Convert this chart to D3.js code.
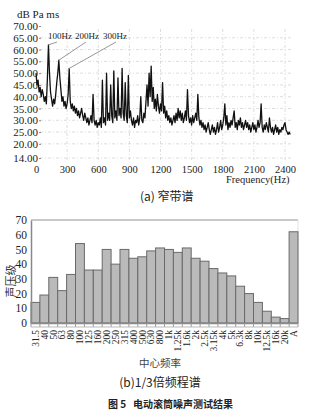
<!DOCTYPE html>
<meta charset="utf-8">
<style>
body { margin: 0; background: #fff; }
svg { display: block; }
</style>
<svg width="319" height="417"></svg>
<script src="https://d3js.org/d3.v7.min.js"></script>
<script>

// (a) narrow band spectrum, one value every 10 Hz starting at 0 Hz
var freqStep = 10;
var spectrumDb = [
  50, 45, 47, 42, 44, 40, 43, 41, 38, 40,
  37, 48, 62, 50, 42, 39, 36, 39, 37, 41,
  46, 50, 55.5, 48, 43, 38, 40, 36, 38, 35,
  37, 41, 52, 38, 35, 37, 34, 36, 33, 35,
  32, 34, 31, 33, 35, 32, 30, 33, 31, 29,
  31, 28, 30, 32, 29, 41, 30, 28, 30, 27,
  29, 28, 31, 27, 47, 29, 31, 28, 50, 30,
  33, 30, 45, 32, 29, 51, 31, 34, 30, 48,
  32, 35, 31, 52, 33, 30, 46, 32, 29, 49,
  31, 34, 30, 28, 31, 27, 30, 29, 32, 28,
  31, 40, 30, 29, 33, 31, 38, 45, 36, 50,
  40, 53, 38, 44, 35, 39, 34, 41, 36, 33,
  37, 34, 46, 33, 36, 31, 34, 30, 32, 29,
  31, 28, 30, 32, 29, 33, 30, 35, 31, 34,
  30, 33, 29, 31, 34, 30, 43, 32, 29, 31,
  28, 32, 29, 31, 33, 30, 41, 31, 28, 30,
  27, 29, 26, 28, 25, 27, 29, 26, 24, 26,
  28, 25, 27, 24, 26, 29, 25, 27, 30, 26,
  28, 31, 37, 28, 32, 26, 29, 27, 30, 28,
  31, 34, 27, 29, 26, 30, 28, 31, 27, 29,
  26, 28, 30, 27, 29, 26, 28, 25, 27, 29,
  26, 28, 25, 27, 30, 27, 29, 37, 27, 25,
  28, 26, 29, 27, 25, 31, 27, 25, 27, 24,
  26, 28, 25, 27, 24, 26, 25, 27, 26, 28,
  29, 26, 25, 24, 25, 24
];
var peakFreqs = [120, 220, 320];
var peakNames = ["100Hz", "200Hz", "300Hz"];
var topYTicks = [14, 20, 25, 30, 35, 40, 45, 50, 55, 60, 65, 70];
var topXTicks = [0, 300, 600, 900, 1200, 1500, 1800, 2100, 2400];

// (b) 1/3 octave spectrum
var bandNames = ["31.5","40","50","63","80","100","125","160","200","250","315","400","500","630","800",
  "1k","1.25k","1.6k","2k","2.5k","3.15k","4k","5k","6.3k","8k","10k","12.5k","16k","20k","A"];
var bandLevels = [14, 19, 31, 22, 33, 54, 36, 36, 50, 40, 50, 44, 45, 49, 51,
  50, 48, 51, 44, 42, 37, 34, 32, 25, 20, 14, 8, 4, 3, 62];
var botYTicks = [0, 10, 20, 30, 40, 50, 60, 70];

var SERIF = "'Liberation Serif', 'DejaVu Serif', serif";
var CJK = "'Noto Sans CJK SC', sans-serif";

var svg = d3.select("svg");

// ---------- top chart ----------
var x1 = d3.scaleLinear().domain([0, 2400]).range([36, 285]);
var y1 = d3.scaleLinear().domain([14, 70]).range([158, 26]);

var gTop = svg.append("g");

gTop.selectAll(".hgrid")
  .data(topYTicks.filter(function(d) { return d < 70; }))
  .enter().append("line")
    .attr("x1", 40).attr("x2", 293)
    .attr("y1", function(d) { return y1(d); })
    .attr("y2", function(d) { return y1(d); })
    .attr("stroke", "#d4d4d4").attr("stroke-width", 0.8)
    .attr("stroke-dasharray", "3,2,1,2");

gTop.selectAll(".vgrid")
  .data(topXTicks.slice(1))
  .enter().append("line")
    .attr("x1", function(d) { return x1(d); })
    .attr("x2", function(d) { return x1(d); })
    .attr("y1", 29).attr("y2", 161)
    .attr("stroke", "#d4d4d4").attr("stroke-width", 0.8)
    .attr("stroke-dasharray", "3,2,1,2");

var yAx1 = gTop.append("g")
  .attr("transform", "translate(41,0)")
  .call(d3.axisLeft(y1).tickValues(topYTicks).tickFormat(d3.format(".2f")).tickSize(2).tickPadding(1))
  .attr("font-family", SERIF);
yAx1.select(".domain").remove();
yAx1.selectAll("line").attr("stroke", "#888");
yAx1.selectAll("text").attr("font-size", 11).attr("fill", "#222");

var xAx1 = gTop.append("g")
  .attr("transform", "translate(0,165)")
  .call(d3.axisBottom(x1).tickValues(topXTicks).tickFormat(d3.format("d")).tickSize(0).tickPadding(1))
  .attr("font-family", SERIF);
xAx1.select(".domain").remove();
xAx1.selectAll("text").attr("font-size", 10.5).attr("fill", "#222");

var line = d3.line()
  .x(function(d, i) { return x1(i * freqStep); })
  .y(function(d) { return y1(d); });

gTop.append("path")
  .datum(spectrumDb)
  .attr("d", line)
  .attr("fill", "none")
  .attr("stroke", "#111")
  .attr("stroke-width", 1.3)
  .attr("stroke-linejoin", "round");

// peak annotations
var labelX = [48, 75, 103];
peakFreqs.forEach(function(f, i) {
  var v = spectrumDb[f / freqStep];
  gTop.append("line")
    .attr("x1", x1(f)).attr("y1", y1(v))
    .attr("x2", labelX[i] + 9 + i * 2).attr("y2", 42)
    .attr("stroke", "#999").attr("stroke-width", 1);
  gTop.append("text")
    .attr("font-family", SERIF)
    .attr("x", labelX[i]).attr("y", 39)
    .attr("font-size", 9).attr("fill", "#222")
    .text(peakNames[i]);
});

gTop.append("text").attr("font-family", SERIF)
  .attr("x", 17).attr("y", 18).attr("font-size", 11).attr("fill", "#222")
  .text("dB Pa ms");

gTop.append("text").attr("font-family", SERIF)
  .attr("x", 226).attr("y", 183).attr("font-size", 10.5).attr("fill", "#222")
  .text("Frequency(Hz)");

gTop.append("text").attr("font-family", CJK)
  .attr("x", 140).attr("y", 201).attr("font-size", 12).attr("fill", "#222")
  .text("(a) 窄带谱");

// ---------- bottom chart ----------
var x2 = d3.scaleBand().domain(bandNames).range([31, 298]).padding(0);
var y2 = d3.scaleLinear().domain([0, 70]).range([323, 220]);

var gBot = svg.append("g");

gBot.append("line")
  .attr("x1", 31).attr("x2", 298).attr("y1", y2(70)).attr("y2", y2(70))
  .attr("stroke", "#c8c8c8").attr("stroke-width", 2);
gBot.append("line")
  .attr("x1", 298).attr("x2", 298).attr("y1", y2(70)).attr("y2", y2(0))
  .attr("stroke", "#e2e2e2").attr("stroke-width", 1);

gBot.selectAll(".bar")
  .data(bandLevels)
  .enter().append("rect")
    .attr("x", function(d, i) { return x2(bandNames[i]); })
    .attr("y", function(d) { return y2(d); })
    .attr("width", x2.bandwidth())
    .attr("height", function(d) { return y2(0) - y2(d); })
    .attr("fill", "#bababa")
    .attr("stroke", "#6a6a6a")
    .attr("stroke-width", 1);

var yAx2 = gBot.append("g")
  .attr("transform", "translate(31,0)")
  .call(d3.axisLeft(y2).tickValues(botYTicks).tickSize(0).tickPadding(4))
  .attr("font-family", SERIF);
yAx2.select(".domain").attr("stroke", "#888").attr("stroke-width", 1.5);
yAx2.selectAll("text").attr("font-size", 11.5).attr("fill", "#222");

// bottom axis with tick marks at band edges
gBot.append("line")
  .attr("x1", 31).attr("x2", 298).attr("y1", 323.5).attr("y2", 323.5)
  .attr("stroke", "#888").attr("stroke-width", 1.5);
gBot.selectAll(".btick")
  .data(bandNames.concat(["_end"]))
  .enter().append("line")
    .attr("x1", function(d, i) { return 31 + i * x2.step(); })
    .attr("x2", function(d, i) { return 31 + i * x2.step(); })
    .attr("y1", 323).attr("y2", 327)
    .attr("stroke", "#999").attr("stroke-width", 1);
gBot.append("line")
  .attr("x1", 31).attr("x2", 298).attr("y1", 327).attr("y2", 327)
  .attr("stroke", "#bbb").attr("stroke-width", 1);

gBot.selectAll(".blabel")
  .data(bandNames)
  .enter().append("text")
    .attr("font-family", SERIF)
    .attr("transform", function(d) {
      return "translate(" + (x2(d) + x2.bandwidth() / 2) + ",330) rotate(-90)";
    })
    .attr("text-anchor", "end")
    .attr("dy", "0.35em")
    .attr("font-size", 9.5)
    .attr("fill", "#222")
    .text(function(d) { return d; });

gBot.append("text").attr("font-family", CJK)
  .attr("transform", "translate(15,281) rotate(-90)")
  .attr("text-anchor", "middle")
  .attr("font-size", 11).attr("fill", "#333")
  .text("声压级");

gBot.append("text").attr("font-family", CJK)
  .attr("x", 160).attr("y", 367).attr("text-anchor", "middle")
  .attr("font-size", 10.5).attr("fill", "#444")
  .text("中心频率");

gBot.append("text").attr("font-family", CJK)
  .attr("x", 160).attr("y", 387).attr("text-anchor", "middle")
  .attr("font-size", 12).attr("fill", "#222")
  .text("(b)1/3倍频程谱");

svg.append("text").attr("font-family", CJK)
  .attr("x", 108).attr("y", 408)
  .attr("font-size", 10).attr("font-weight", "bold").attr("fill", "#222")
  .attr("xml:space", "preserve")
  .text("图 5   电动滚筒噪声测试结果");

</script>
